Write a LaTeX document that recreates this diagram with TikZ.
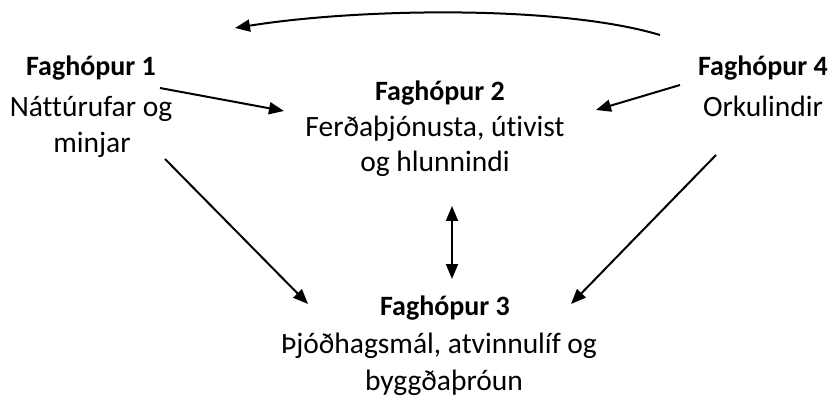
\documentclass[tikz,border=0pt]{standalone}
\usepackage{fontspec}
\setmainfont{Carlito}[Ligatures=NoCommon]
\usetikzlibrary{arrows.meta}
\begin{document}
\begin{tikzpicture}[x=1pt,y=-1pt,
  lbl/.style={inner sep=0pt,align=center,font=\fontsize{29.5}{36}\selectfont,anchor=base},
  ttl/.style={lbl,font=\fontsize{28}{36}\selectfont\bfseries},
  arr/.style={line width=2pt,-{Triangle[length=15pt,width=12pt]}},
  darr/.style={line width=2pt,{Triangle[length=15pt,width=12pt]}-{Triangle[length=15pt,width=12pt]}}]
\useasboundingbox (0,0) rectangle (834,403);
% group 1
\node[ttl] (g1) at (91,76) {Faghópur 1};
\node[lbl] (g1a) at (91,117) {Náttúrufar og};
\node[lbl] (g1b) at (92,153) {minjar};
% group 2
\node[ttl] (g2) at (440,101) {Faghópur 2};
\node[lbl] (g2a) at (435,137) {Ferðaþjónusta, útivist};
\node[lbl] (g2b) at (435,172) {og hlunnindi};
% group 4
\node[ttl] (g4) at (763,76) {Faghópur 4};
\node[lbl] (g4a) at (763,117) {Orkulindir};
% group 3
\node[ttl] (g3) at (445,315) {Faghópur 3};
\node[lbl] (g3a) at (439,353) {Þjóðhagsmál, atvinnulíf og};
\node[lbl] (g3b) at (444,390) {byggðaþróun};
% arrow endpoints
\coordinate (c41s) at (660,35);
\coordinate (c41e) at (235,28);
\coordinate (c12s) at (160,88);
\coordinate (c12e) at (284,111);
\coordinate (c42s) at (680,85);
\coordinate (c42e) at (596,110);
\coordinate (c23s) at (452,206);
\coordinate (c23e) at (452,279);
\coordinate (c13s) at (165,159);
\coordinate (c13e) at (308,304);
\coordinate (c43s) at (716,155);
\coordinate (c43e) at (571,304);
\draw[arr] (c41s) .. controls (560,5) and (360,8) .. (c41e);
\draw[arr] (c12s) -- (c12e);
\draw[arr] (c42s) -- (c42e);
\draw[darr] (c23s) -- (c23e);
\draw[arr] (c13s) -- (c13e);
\draw[arr] (c43s) -- (c43e);
\end{tikzpicture}
\end{document}
